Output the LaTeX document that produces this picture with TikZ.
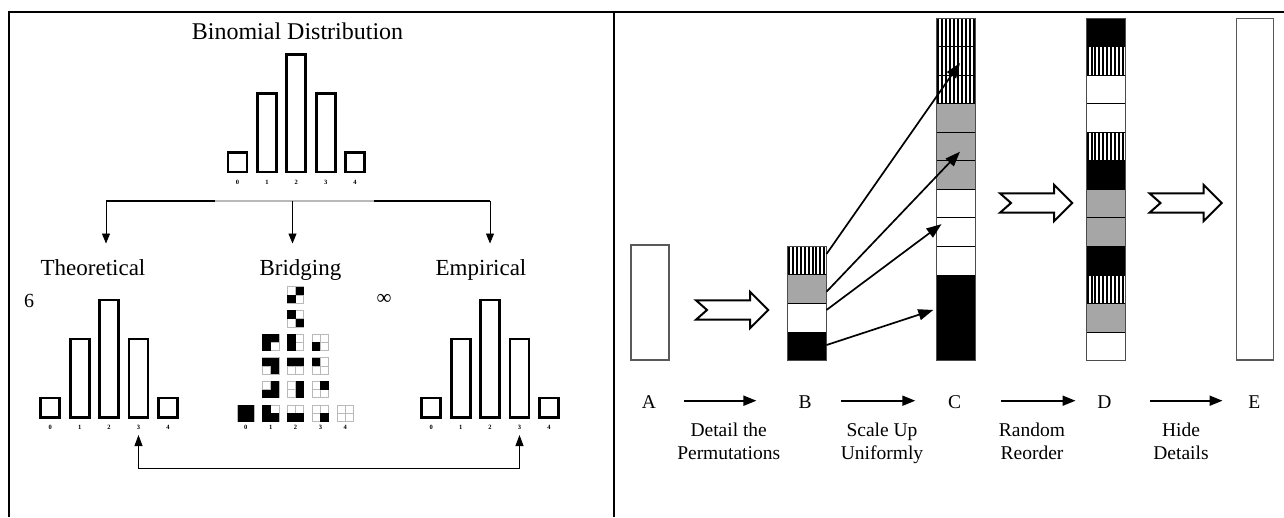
\documentclass[tikz,border=0pt]{standalone}
\usepackage{fontspec}
\setmainfont{Liberation Serif}
\usetikzlibrary{arrows.meta}
\definecolor{segc1}{gray}{1}
\definecolor{segc2}{HTML}{A6A6A6}
\definecolor{segc3}{gray}{1}
\definecolor{segc4}{gray}{0}
\newcommand\stripesin[1]{%
  \foreach \k in {0,...,9}{%
    \draw[line width=2pt] ([xshift={1.6pt+3.9pt*\k}]#1.north west) -- ([xshift={1.6pt+3.9pt*\k}]#1.south west);}}
\begin{document}
\begin{tikzpicture}[x=1pt,y=-1pt,
  histbar/.style={draw, line width=2.7pt, minimum width=19pt, inner sep=0pt, outer sep=0pt, fill=white},
  tinylab/.style={font=\fontsize{6.5}{6.5}\selectfont\bfseries, inner sep=0pt, anchor=base},
  biglab/.style={font=\fontsize{23}{26}\selectfont, inner sep=0pt, anchor=base},
  midlab/.style={font=\fontsize{19.5}{22}\selectfont, inner sep=0pt, anchor=base},
  framel/.style={line width=1.5pt},
  thintip/.style={line width=0.9pt, -{Triangle[length=10pt,width=8pt]}},
  biarrow/.style={line width=0.9pt, {Triangle[length=11pt,width=8pt]}-{Triangle[length=11pt,width=8pt]}},
  bsq/.style={draw=gray!55, line width=0.7pt, fill=white, minimum size=16.5pt, inner sep=0pt, outer sep=0pt},
  bgrid/.style={draw=gray!55, line width=0.7pt},
  plainbar/.style={draw=gray!70!black, line width=1.2pt, inner sep=0pt, outer sep=0pt, fill=white},
  seg/.style={draw=black, line width=0.8pt, minimum width=39pt, minimum height=28.55pt, inner sep=0pt, outer sep=0pt},
  barout/.style={draw=gray!60!black, line width=1pt},
  bcarrow/.style={line width=1.7pt, -{Triangle[length=15pt,width=11pt]}},
  botarrow/.style={line width=1.8pt, -{Triangle[length=13pt,width=10pt]}},
  blockarr/.pic={\draw[line width=2pt, fill=white, line join=miter]
     (0,-9.7) -- (54,-9.7) -- (54,-18.3) -- (72.3,0) -- (54,18.3) -- (54,9.7) -- (0,9.7) -- (11,0) -- cycle;}
]
\useasboundingbox (0,0) rectangle (1284,517);
\fill[white] (0,0) rectangle (1284,517);

% frame
\coordinate (fbl) at (9,517);
\coordinate (ftl) at (9,12);
\coordinate (ftr) at (1284,12);
\coordinate (fmt) at (614,12);
\coordinate (fmb) at (614,517);
\draw[framel] (fbl) -- (ftl) -- (ftr);
\draw[framel] (fmt) -- (fmb);

% ---------- left panel ----------
\node[biglab, font=\fontsize{24}{27}\selectfont] (title) at (297.5,39.3) {Binomial Distribution};
\foreach \k [count=\i from 0] in {1,4,6,4,1} {
  \node[histbar, minimum height={19.6pt*\k}] (h\i) at ({296.3+29.4*(\i-2)}, {172-9.8*\k}) {};
  \node[tinylab] (hl\i) at ({296.3+29.4*(\i-2)}, 184.5) {\i};
  \node[histbar, minimum height={19.6pt*\k}] (t\i) at ({109.1+29.4*(\i-2)}, {417.5-9.8*\k}) {};
  \node[tinylab] (tl\i) at ({109.1+29.4*(\i-2)}, 429.5) {\i};
  \node[histbar, minimum height={19.6pt*\k}] (e\i) at ({490.1+29.4*(\i-2)}, {417.5-9.8*\k}) {};
  \node[tinylab] (el\i) at ({490.1+29.4*(\i-2)}, 429.5) {\i};
}

% tree connector
\coordinate (sT) at (106,201);
\coordinate (sB) at (292.5,201);
\coordinate (sE) at (490,201);
\coordinate (g1) at (215,201);
\coordinate (g2) at (373.5,201);
\coordinate (eT) at (106,243.5);
\coordinate (eB) at (292.5,243.5);
\coordinate (eE) at (490,243.5);
\draw[line width=2pt] (sT) -- (g1);
\draw[line width=1.4pt, gray!55] (g1) -- (g2);
\draw[line width=2pt] (g2) -- (sE);
\draw[thintip] (sT) -- (eT);
\draw[thintip] (sB) -- (eB);
\draw[thintip] (sE) -- (eE);

\node[biglab] (theo) at (93,275) {Theoretical};
\node[biglab] (brid) at (300.4,275) {Bridging};
\node[biglab] (emp) at (481,275) {Empirical};
\node[font=\fontsize{20}{20}\selectfont, anchor=base, inner sep=0pt] (six) at (29,307) {6};
\node[font=\fontsize{21}{21}\selectfont, anchor=base, inner sep=0pt] (inf) at (384,304) {∞};

% bridging squares
\foreach \c/\r/\ta/\tb/\tc/\td in {
0/0/1/1/1/1, 1/0/1/0/1/1, 2/0/0/0/1/1, 3/0/0/0/0/1, 4/0/0/0/0/0,
1/1/0/1/1/1, 2/1/0/1/0/1, 3/1/0/1/0/0,
1/2/1/1/0/1, 2/2/1/1/0/0, 3/2/1/0/0/0,
1/3/1/1/1/0, 2/3/1/0/1/0, 3/3/0/0/1/0,
2/4/1/0/0/1, 2/5/0/1/1/0}
{
  \node[bsq] (q\c\r) at ({245.75+24.9*\c},{413.25-23.66*\r}) {};
  \draw[bgrid] (q\c\r.north) -- (q\c\r.south) (q\c\r.west) -- (q\c\r.east);
  \ifnum\ta=1 \fill (q\c\r.north west) rectangle (q\c\r.center);\fi
  \ifnum\tb=1 \fill (q\c\r.north east) rectangle (q\c\r.center);\fi
  \ifnum\tc=1 \fill (q\c\r.south west) rectangle (q\c\r.center);\fi
  \ifnum\td=1 \fill (q\c\r.south east) rectangle (q\c\r.center);\fi
}
\foreach \c in {0,...,4} {
  \node[tinylab] (bl\c) at ({245.75+24.9*\c}, 429.5) {\c};
}

% link between theoretical and empirical
\coordinate (jrow) at (0,468);
\draw[biarrow] ([yshift=-5.5pt]tl3.base) -- (tl3.base |- jrow) -- (el3.base |- jrow) -- ([yshift=-5.5pt]el3.base);

% ---------- right panel ----------
\node[plainbar, minimum width=38pt, minimum height=115pt] (A) at (650,302.5) {};
\node[plainbar, minimum width=36.6pt, minimum height=341.7pt] (E) at (1255,189.15) {};

\foreach \t [count=\i from 0] in {1,2,3,4} {
  \node[seg, fill=segc\t] (B\i) at (807, {246.3+28.55*(\i+0.5)}) {};
  \ifnum\t=1 \stripesin{B\i}\fi
}
\draw[barout] (B0.north west) rectangle (B3.south east);

\foreach \t [count=\i from 0] in {1,1,1,2,2,2,3,3,3,4,4,4} {
  \node[seg, fill=segc\t] (C\i) at (956.3, {18+28.55*(\i+0.5)}) {};
  \ifnum\t=1 \stripesin{C\i}\fi
}
\draw[barout] (C0.north west) rectangle (C11.south east);

\foreach \t [count=\i from 0] in {4,1,3,3,1,4,2,2,4,1,2,3} {
  \node[seg, fill=segc\t] (D\i) at (1105.5, {18+28.55*(\i+0.5)}) {};
  \ifnum\t=1 \stripesin{D\i}\fi
}
\draw[barout] (D0.north west) rectangle (D11.south east);

% block arrows
\pic at (696,310) {blockarr};
\pic at (1000,203) {blockarr};
\pic at (1149.5,203) {blockarr};

% B -> C arrows
\draw[bcarrow] ([yshift=6.6pt]B0.east) -- ([xshift=3.7pt,yshift=-2.2pt]C1.center);
\draw[bcarrow] ([yshift=-2.6pt]B1.east) -- ([xshift=3.7pt,yshift=-5.2pt]C4.center);
\draw[bcarrow] ([yshift=7.7pt]B2.east) -- ([xshift=-14.8pt,yshift=8pt]C7.center);
\draw[bcarrow] ([yshift=1.2pt]B3.east) -- ([xshift=-23pt,yshift=7.8pt]C10.center);

% bottom labels
\node[midlab] (LA) at (648.8,408.5) {A};
\node[midlab] (LB) at (805.2,408.5) {B};
\node[midlab] (LC) at (954.7,408.5) {C};
\node[midlab] (LD) at (1104.3,408.5) {D};
\node[midlab] (LE) at (1254.3,408.5) {E};
\coordinate (a1s) at (684.4,400.7); \coordinate (a1e) at (756.4,400.7);
\coordinate (a2s) at (841.2,400.7); \coordinate (a2e) at (915.3,400.7);
\coordinate (a3s) at (1001.4,400.7); \coordinate (a3e) at (1075.5,400.7);
\coordinate (a4s) at (1149.7,400.7); \coordinate (a4e) at (1222.5,400.7);
\draw[botarrow] (a1s) -- (a1e);
\draw[botarrow] (a2s) -- (a2e);
\draw[botarrow] (a3s) -- (a3e);
\draw[botarrow] (a4s) -- (a4e);

\node[midlab] (s1a) at (728.7,436.5) {Detail the};
\node[midlab] (s1b) at (728.7,459.8) {Permutations};
\node[midlab] (s2a) at (882,436.5) {Scale Up};
\node[midlab] (s2b) at (882,459.8) {Uniformly};
\node[midlab] (s3a) at (1032,436.5) {Random};
\node[midlab] (s3b) at (1032,459.8) {Reorder};
\node[midlab] (s4a) at (1181,436.5) {Hide};
\node[midlab] (s4b) at (1181,459.8) {Details};
\end{tikzpicture}
\end{document}
